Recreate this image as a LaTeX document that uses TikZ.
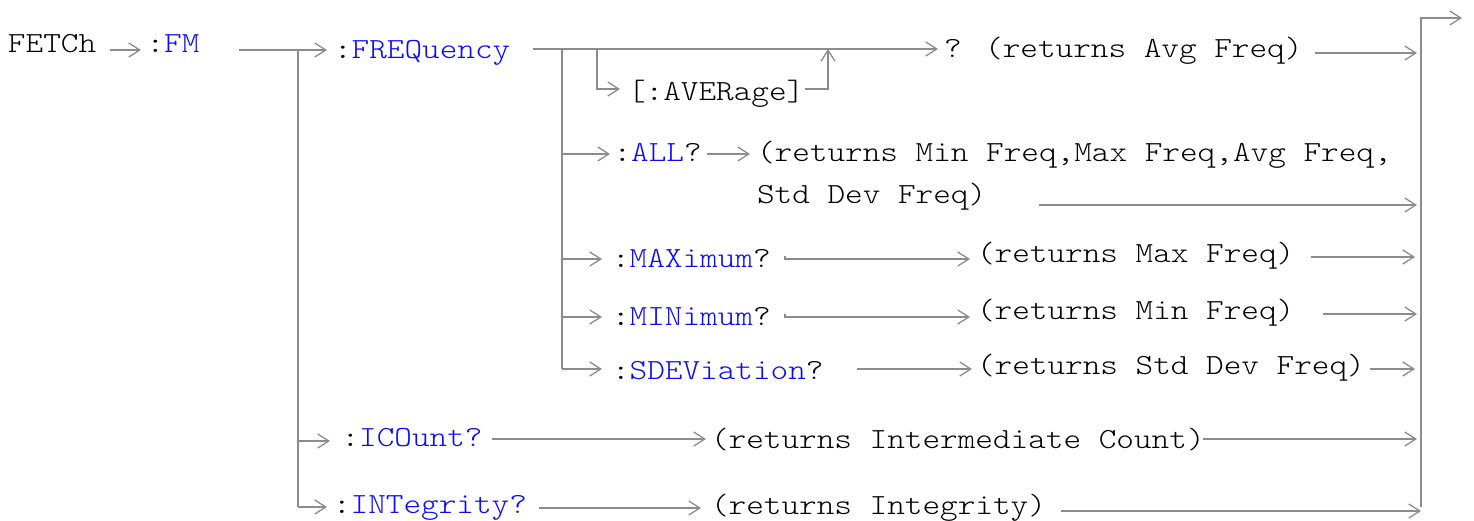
\documentclass[tikz,border=0pt]{standalone}
\usepackage{fontspec}
\newfontfamily\cmono{lmmonolt10-regular.otf}[FakeStretch=1.15]
\usetikzlibrary{arrows.meta}
\definecolor{ln}{RGB}{140,140,140}
\definecolor{kwc}{RGB}{10,10,255}
\newcommand\kwd[1]{\textcolor{kwc}{#1}}
\begin{document}
\begin{tikzpicture}[x=1pt,y=-1pt,
  txt/.style={anchor=base west,inner sep=0pt,outer sep=0pt,font=\cmono\fontsize{29.2}{35}\selectfont},
  conn/.style={draw=ln,line width=2pt},
  arr/.style={conn,-{Straight Barb[length=11pt,width=14pt,line width=1.3pt]}}]
\useasboundingbox (0,0) rectangle (1474,520);
% text nodes
\node[txt] (fetch) at (8,52) {FETCh};
\node[txt] (fm) at (146.5,52) {:\kwd{FM}};
\node[txt] (freq) at (334,58) {:\kwd{FREQuency}};
\node[txt] (avgq) at (944,57) {? (returns Avg Freq)};
\node[txt] (aver) at (628,100) {[:AVERage]};
\node[txt] (all) at (613.5,161) {:\kwd{ALL}?};
\node[txt] (allr1) at (757,161) {(returns Min Freq,Max Freq,Avg Freq,};
\node[txt] (allr2) at (757,203) {Std Dev Freq)};
\node[txt] (max) at (612,267) {:\kwd{MAXimum}?};
\node[txt] (maxr) at (977,262) {(returns Max Freq)};
\node[txt] (min) at (612,325) {:\kwd{MINimum}?};
\node[txt] (minr) at (977,319) {(returns Min Freq)};
\node[txt] (sdev) at (612,379) {:\kwd{SDEViation}?};
\node[txt] (sdevr) at (977,374) {(returns Std Dev Freq)};
\node[txt] (icount) at (341.5,446) {:\kwd{ICOunt?}};
\node[txt] (icountr) at (711,448) {(returns Intermediate Count)};
\node[txt] (integ) at (333,513) {:\kwd{INTegrity?}};
\node[txt] (integr) at (711,514) {(returns Integrity)};
% junction coordinates
\coordinate (f1) at (110,50); \coordinate (f2) at (141,50);
\coordinate (m1) at (239,50); \coordinate (m2) at (327,50);
\coordinate (mv) at (298,50); \coordinate (mvb) at (298,507); \coordinate (ie) at (327,507);
\coordinate (ic0) at (298,441); \coordinate (ic1) at (330,441);
\coordinate (q1) at (533,49); \coordinate (q2) at (938,49);
\coordinate (qv) at (562,49); \coordinate (qvb) at (562,369); \coordinate (sd1) at (602,369);
\coordinate (al0) at (562,154); \coordinate (al1) at (610,154);
\coordinate (mx0) at (562,259); \coordinate (mx1) at (602,259);
\coordinate (mn0) at (562,317); \coordinate (mn1) at (602,317);
\coordinate (av0) at (597,49); \coordinate (av1) at (597,89); \coordinate (av2) at (620,89);
\coordinate (ar0) at (805,89); \coordinate (ar1) at (828,89); \coordinate (ar2) at (828,49);
\coordinate (ala) at (707,154); \coordinate (alb) at (750,154);
\coordinate (mxt) at (785,256); \coordinate (mxa) at (785,259); \coordinate (mxb) at (970,259);
\coordinate (mnt) at (785,314); \coordinate (mna) at (785,317); \coordinate (mnb) at (970,317);
\coordinate (sda) at (857,369); \coordinate (sdb) at (972,369);
\coordinate (ica) at (492,439); \coordinate (icb) at (706,439);
\coordinate (ina) at (539,508); \coordinate (inb) at (701,508);
\coordinate (r1a) at (1315,53); \coordinate (r1b) at (1417,53);
\coordinate (r2a) at (1039,205); \coordinate (r2b) at (1417,205);
\coordinate (r3a) at (1311,257); \coordinate (r3b) at (1415,257);
\coordinate (r4a) at (1323,314); \coordinate (r4b) at (1417,314);
\coordinate (r5a) at (1370,369); \coordinate (r5b) at (1415,369);
\coordinate (r6a) at (1203,439); \coordinate (r6b) at (1417,439);
\coordinate (r7a) at (1061,511); \coordinate (r7b) at (1421,511);
\coordinate (bb) at (1421,507); \coordinate (bt) at (1421,18); \coordinate (be) at (1462,18);
% connectors
\draw[arr] (f1) -- (f2);
\draw[arr] (m1) -- (m2);
\draw[conn] (mv) -- (mvb);
\draw[arr] (mvb) -- (ie);
\draw[arr] (ic0) -- (ic1);
\draw[arr] (q1) -- (q2);
\draw[conn] (qv) -- (qvb);
\draw[arr] (qvb) -- (sd1);
\draw[arr] (al0) -- (al1);
\draw[arr] (mx0) -- (mx1);
\draw[arr] (mn0) -- (mn1);
\draw[arr] (av0) -- (av1) -- (av2);
\draw[arr] (ar0) -- (ar1) -- (ar2);
\draw[arr] (ala) -- (alb);
\draw[arr] (mxt) -- (mxa) -- (mxb);
\draw[arr] (mnt) -- (mna) -- (mnb);
\draw[arr] (sda) -- (sdb);
\draw[arr] (ica) -- (icb);
\draw[arr] (ina) -- (inb);
\draw[arr] (r1a) -- (r1b);
\draw[arr] (r2a) -- (r2b);
\draw[arr] (r3a) -- (r3b);
\draw[arr] (r4a) -- (r4b);
\draw[arr] (r5a) -- (r5b);
\draw[arr] (r6a) -- (r6b);
\draw[arr] (r7a) -- (r7b);
\draw[arr] (bb) -- (bt) -- (be);
\end{tikzpicture}
\end{document}
